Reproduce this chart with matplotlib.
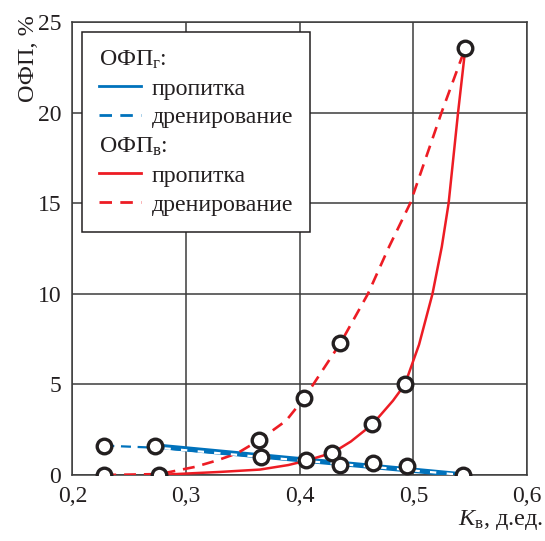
import matplotlib
matplotlib.use("Agg")
import matplotlib.pyplot as plt
from matplotlib.lines import Line2D

plt.rcParams['font.family'] = ['Liberation Serif', 'DejaVu Serif']
plt.rcParams['mathtext.fontset'] = 'custom'
plt.rcParams['mathtext.rm'] = 'Liberation Serif'
plt.rcParams['mathtext.it'] = 'Liberation Serif:italic'

# ---- data ----
# water rel. perm, imbibition (solid red) curve
w_imb_x = [0.276, 0.30, 0.33, 0.365, 0.39, 0.405, 0.429, 0.445, 0.464, 0.482, 0.4925, 0.505, 0.5168, 0.525, 0.531, 0.5393, 0.5458]
w_imb_y = [0.0, 0.08, 0.17, 0.30, 0.55, 0.78, 1.23, 1.85, 2.8, 4.1, 5.0, 7.2, 10.0, 12.6, 15.0, 20.0, 23.6]
# water rel. perm, drainage (dashed red) curve
w_dr_x = [0.228, 0.276, 0.286, 0.308, 0.327, 0.345, 0.365, 0.388, 0.404, 0.436, 0.460, 0.4786, 0.4972, 0.5247, 0.5458]
w_dr_y = [0.0, 0.05, 0.17, 0.45, 0.80, 1.20, 1.95, 3.0, 4.25, 7.3, 10.0, 12.6, 15.0, 20.0, 23.6]
# gas rel. perm, imbibition (solid blue)
g_imb_x = [0.273, 0.544]
g_imb_y = [1.60, 0.0]
# gas rel. perm, drainage (dashed blue)
g_dr_x = [0.228, 0.276, 0.544]
g_dr_y = [1.62, 1.50, 0.0]
# measured points
pts_x = [0.228, 0.228, 0.273, 0.276, 0.364, 0.3655, 0.404, 0.4054, 0.4288, 0.4353, 0.464, 0.4646, 0.4927, 0.4945, 0.5437, 0.5458, 0.4358]
pts_y = [1.62, 0.0, 1.60, 0.0, 1.95, 1.01, 4.25, 0.83, 1.23, 0.55, 2.80, 0.64, 5.0, 0.47, 0.0, 23.6, 7.3]

xticks = [0.2, 0.3, 0.4, 0.5, 0.6]
xtick_labels = ['0,2', '0,3', '0,4', '0,5', '0,6']
yticks = [0, 5, 10, 15, 20, 25]
ytick_labels = ['0', '5', '10', '15', '20', '25']

RED = '#ED1C24'
BLUE = '#0072BC'
DARK = '#231F20'
GRID = '#3C3C3C'

fig = plt.figure(figsize=(5.45, 5.41), dpi=100)
ax = fig.add_axes([0.133, 0.122, 0.834, 0.837])

l_gi, = ax.plot(g_imb_x, g_imb_y, color=BLUE, lw=3.8, solid_capstyle='butt', zorder=3)
l_gd, = ax.plot(g_dr_x, g_dr_y, color=BLUE, lw=1.6, ls=(0, (4.5, 3)), gapcolor='white', zorder=3.5)
l_wi, = ax.plot(w_imb_x, w_imb_y, color=RED, lw=1.8, zorder=3)
l_wd, = ax.plot(w_dr_x, w_dr_y, color=RED, lw=1.9, ls=(0, (4.5, 3)), zorder=3)
ax.plot(pts_x, pts_y, ls='none', marker='o', ms=10.5, mfc='white', mec=DARK, mew=2.4, zorder=5)

ax.set_xlim(0.2, 0.6)
ax.set_ylim(0, 25)
ax.set_xticks(xticks)
ax.set_xticklabels(xtick_labels)
ax.set_yticks(yticks)
ax.set_yticklabels(ytick_labels)
ax.tick_params(length=0, labelsize=17, colors=DARK, pad=8)
ax.grid(True, color=GRID, lw=1.1)
ax.set_axisbelow(True)
for s in ax.spines.values():
    s.set_color(GRID)
    s.set_linewidth(1.1)

ax.set_ylabel('ОФП, %', fontsize=17.5, color=DARK, loc='top')
ax.yaxis.set_label_coords(-0.074, 1.016)
ax.set_xlabel(r'$K_{\mathrm{в}}$, д.ед.', fontsize=17.5, color=DARK, loc='right')
ax.xaxis.set_label_coords(1.036, -0.072)

blank = Line2D([], [], color='none')
lg_gi = Line2D([], [], color=BLUE, lw=2.0)
lg_gd = Line2D([], [], color=BLUE, lw=2.0, ls=(0, (4.5, 3)))
lg_wi = Line2D([], [], color=RED, lw=2.0)
lg_wd = Line2D([], [], color=RED, lw=2.0, ls=(0, (4.5, 3)))
handles = [blank, lg_gi, lg_gd, blank, lg_wi, lg_wd]
labels = [r'ОФП$_{\mathrm{г}}$:', 'пропитка', 'дренирование',
          r'ОФП$_{\mathrm{в}}$:', 'пропитка', 'дренирование']
leg = ax.legend(handles, labels, loc='upper left', bbox_to_anchor=(0.022, 0.978),
                fontsize=17.2, frameon=True, fancybox=False, framealpha=1,
                edgecolor=DARK, handlelength=1.78, handletextpad=0.45,
                labelspacing=0.3, borderpad=0.68, borderaxespad=0)
leg.get_frame().set_linewidth(1.1)
for t in leg.get_texts():
    t.set_color(DARK)
# header rows: drop the empty handle so the text starts at the handle column
try:
    col = leg._legend_handle_box.get_children()[0]
    rows = col.get_children()
    for i in (0, 3):
        rows[i]._children = [rows[i]._children[1]]
except Exception:
    pass

fig.savefig('out.png', dpi=100)
